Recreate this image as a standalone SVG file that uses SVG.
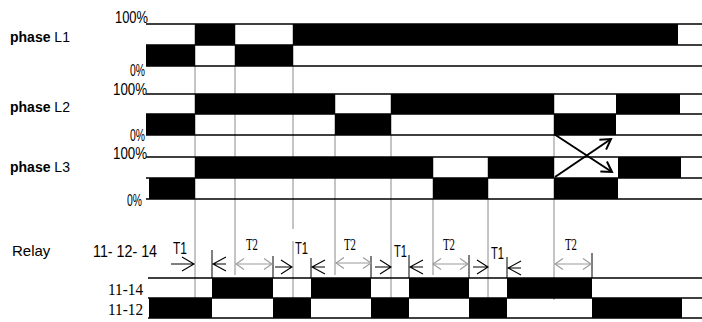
<svg xmlns="http://www.w3.org/2000/svg" width="702" height="322" viewBox="0 0 702 322">
<defs>
<style>
.lbl{font-family:"Liberation Sans",Arial,sans-serif;font-size:14px;fill:#000}
.b{font-weight:bold}
.pct{font-family:"Liberation Sans",Arial,sans-serif;font-size:16px;fill:#000}
.t1{font-family:"Liberation Sans",Arial,sans-serif;font-size:17px;fill:#000}
.ser{font-family:"Liberation Serif","Times New Roman",serif;font-size:17px;fill:#000}
.h{stroke:#000;stroke-width:1.3;fill:none}
.v{stroke:#8a8a8a;stroke-width:1;fill:none}
.tick{stroke:#000;stroke-width:1;fill:none}
.blk{fill:#000}
.ar{stroke:#000;stroke-width:1.1;fill:none}
.g{stroke:#9a9a9a;stroke-width:1.2;fill:none;marker-start:url(#gh);marker-end:url(#gh)}
.x{stroke:#000;stroke-width:2;fill:none;marker-end:url(#xh)}
</style>
<marker id="xh" markerUnits="userSpaceOnUse" markerWidth="14" markerHeight="16" viewBox="-12 -8 14 16" refX="0" refY="0" orient="auto"><path d="M-10,-6 L0,0 L-10,6" stroke="#000" stroke-width="2" fill="none"/></marker>
<marker id="gh" markerUnits="userSpaceOnUse" markerWidth="12" markerHeight="14" viewBox="-10 -7 12 14" refX="0" refY="0" orient="auto-start-reverse"><path d="M-8,-5.5 L0,0 L-8,5.5" stroke="#9a9a9a" stroke-width="1.1" fill="none"/></marker>
</defs>
<rect width="702" height="322" fill="#fff"/>

<g id="grid">
<path class="v" d="M195,24V298M235,24V275M293,24V229M293,241V298M335,94V275M391,94V298M433,157V275M488,157V298M554,94V300"/>
</g>

<g id="phaseL1">
<text class="lbl" x="10" y="42"><tspan class="b">phase</tspan> L1</text>
<text class="pct" x="115" y="23" textLength="33" lengthAdjust="spacingAndGlyphs">100%</text>
<text class="pct" x="130" y="76" textLength="15" lengthAdjust="spacingAndGlyphs">0%</text>
<rect class="blk" x="195" y="24" width="40" height="21"/>
<rect class="blk" x="293" y="24" width="385" height="21"/>
<rect class="blk" x="146" y="45" width="49" height="21"/>
<rect class="blk" x="235" y="45" width="58" height="21"/>
<path class="h" d="M146,24H702M146,45H702M146,66H702"/>
</g>

<g id="phaseL2">
<text class="lbl" x="10" y="112"><tspan class="b">phase</tspan> L2</text>
<text class="pct" x="113" y="95" textLength="34" lengthAdjust="spacingAndGlyphs">100%</text>
<text class="pct" x="130" y="141" textLength="15" lengthAdjust="spacingAndGlyphs">0%</text>
<rect class="blk" x="195" y="94" width="140" height="20"/>
<rect class="blk" x="391" y="94" width="163" height="20"/>
<rect class="blk" x="616" y="94" width="64" height="20"/>
<rect class="blk" x="146" y="114" width="49" height="21"/>
<rect class="blk" x="335" y="114" width="56" height="21"/>
<rect class="blk" x="554" y="114" width="62" height="21"/>
<path class="h" d="M146,94H702M146,114H702M146,135H702"/>
</g>

<g id="phaseL3">
<text class="lbl" x="10" y="172"><tspan class="b">phase</tspan> L3</text>
<text class="pct" x="113" y="159" textLength="34" lengthAdjust="spacingAndGlyphs">100%</text>
<text class="pct" x="127" y="206" textLength="15" lengthAdjust="spacingAndGlyphs">0%</text>
<rect class="blk" x="195" y="157" width="238" height="21"/>
<rect class="blk" x="488" y="157" width="66" height="21"/>
<rect class="blk" x="618" y="157" width="63" height="21"/>
<rect class="blk" x="149" y="178" width="46" height="21"/>
<rect class="blk" x="433" y="178" width="55" height="21"/>
<rect class="blk" x="554" y="178" width="64" height="21"/>
<path class="h" d="M146,157H702M146,178H702M146,199H702"/>
</g>

<g id="relay">
<text class="lbl" x="12" y="256" style="font-size:15px">Relay</text>
<text class="lbl" x="93" y="257" style="font-size:16px" textLength="64" lengthAdjust="spacingAndGlyphs">11- 12- 14</text>
<text class="ser" x="108" y="295" textLength="35" lengthAdjust="spacingAndGlyphs">11-14</text>
<text class="ser" x="108" y="315" textLength="35" lengthAdjust="spacingAndGlyphs">11-12</text>
<rect class="blk" x="212" y="278" width="61" height="20"/>
<rect class="blk" x="311" y="278" width="60" height="20"/>
<rect class="blk" x="409" y="278" width="60" height="20"/>
<rect class="blk" x="507" y="278" width="85" height="20"/>
<rect class="blk" x="149" y="298" width="63" height="20"/>
<rect class="blk" x="273" y="298" width="38" height="20"/>
<rect class="blk" x="371" y="298" width="38" height="20"/>
<rect class="blk" x="469" y="298" width="38" height="20"/>
<rect class="blk" x="592" y="298" width="90" height="20"/>
<path class="h" d="M148,278H702M148,298H702M148,318H702"/>
</g>

<g id="timing">
<path class="tick" d="M212,250V278M273,256V278M311,258V278M371,256V278M409,255V278M469,255V278M507,257V278M592,253V278"/>
<text class="t1" x="173" y="254" textLength="14" lengthAdjust="spacingAndGlyphs">T1</text>
<text class="t1" x="295" y="254" textLength="13" lengthAdjust="spacingAndGlyphs">T1</text>
<text class="t1" x="394" y="257" textLength="13" lengthAdjust="spacingAndGlyphs">T1</text>
<text class="t1" x="491" y="259" textLength="13" lengthAdjust="spacingAndGlyphs">T1</text>
<text class="ser" x="246" y="250" textLength="12" lengthAdjust="spacingAndGlyphs">T2</text>
<text class="ser" x="344" y="250" textLength="12" lengthAdjust="spacingAndGlyphs">T2</text>
<text class="ser" x="443" y="250" textLength="12" lengthAdjust="spacingAndGlyphs">T2</text>
<text class="ser" x="565" y="250" textLength="12" lengthAdjust="spacingAndGlyphs">T2</text>
</g>

<g id="connectors">
<path class="ar" d="M171,264H194M182,257L194,264L182,271"/>
<path class="ar" d="M275,267H292M281,260L292,267L281,274"/>
<path class="ar" d="M375,267H391M380,260L391,267L380,274"/>
<path class="ar" d="M473,267H488M477,260L488,267L477,274"/>
<path class="ar" d="M213,264H226M226,257L213,264L226,271"/>
<path class="ar" d="M312,267H325M325,260L312,267L325,274"/>
<path class="ar" d="M410,267H423M423,260L410,267L423,274"/>
<path class="ar" d="M508,268H521M521,261L508,268L521,275"/>
<path class="g" d="M236,264H272"/>
<path class="g" d="M336,263H371"/>
<path class="g" d="M433,264H468"/>
<path class="g" d="M555,264H591"/>
<path class="x" d="M554,134L612,172"/>
<path class="x" d="M555,177L611,139"/>
</g>
</svg>
